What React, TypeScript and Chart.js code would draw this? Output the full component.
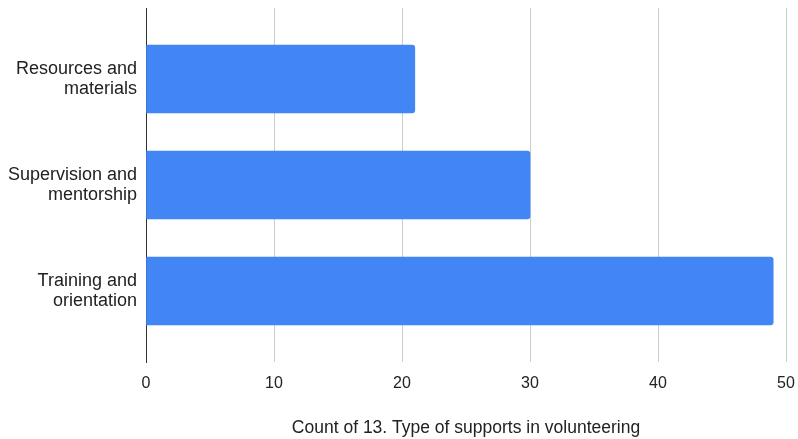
import React, { useEffect, useRef } from "react";
import { Chart, registerables } from "chart.js";

Chart.register(...registerables);

const categories: string[][] = [
  ["Resources and", "materials"],
  ["Supervision and", "mentorship"],
  ["Training and", "orientation"],
];
const counts: number[] = [21, 30, 49];
const xTitle = "Count of 13. Type of supports in volunteering";
const xMin = 0;
const xMax = 50;
const xStep = 10;

const FONT = "'Liberation Sans', Arial, sans-serif";

export default function App() {
  const ref = useRef<HTMLCanvasElement>(null);
  useEffect(() => {
    if (!ref.current) return;
    const chart = new Chart(ref.current, {
      type: "bar",
      data: {
        datasets: [
          {
            data: counts.map((v, i) => ({ x: v, y: i })),
            backgroundColor: "#4285F4",
            borderRadius: 3,
            barThickness: 68,
          },
        ],
      },
      options: {
        indexAxis: "y",
        animation: false,
        responsive: false,
        layout: { padding: { top: 8, right: 12, left: 0, bottom: 0 } },
        plugins: { legend: { display: false }, tooltip: { enabled: false } },
        scales: {
          x: {
            type: "linear",
            min: xMin,
            max: xMax,
            ticks: {
              stepSize: xStep,
              padding: 12,
              color: "#222",
              font: { family: FONT, size: 16 },
            },
            grid: { color: "#cccccc", drawTicks: false },
            border: { display: false },
            title: {
              display: true,
              text: xTitle,
              color: "#222",
              font: { family: FONT, size: 17.5 },
              padding: { top: 20, bottom: 0 },
            },
            afterFit: (s: any) => {
              s.height = 77;
              s.paddingLeft = 0;
              s.paddingRight = 0;
            },
          },
          y: {
            type: "linear",
            reverse: true,
            offset: false,
            min: -0.67,
            max: categories.length - 1 + 0.67,
            afterBuildTicks: (s: any) => {
              s.ticks = categories.map((_, i) => ({ value: i }));
            },
            ticks: {
              padding: 9,
              color: "#222",
              font: { family: FONT, size: 18, lineHeight: 1.12 },
              callback: (v: any) => categories[v as number],
            },
            grid: { display: false, drawTicks: false, offset: false },
            border: { display: true, color: "#333333", width: 1 },
            afterFit: (s: any) => {
              s.width = 146;
              s.paddingTop = 0;
              s.paddingBottom = 0;
            },
          },
        },
      },
    });
    return () => chart.destroy();
  }, []);
  return (
    <div style={{ position: "fixed", left: 0, top: 0, width: 798, height: 439, background: "#fff" }}>
      <canvas ref={ref} width={798} height={439} />
    </div>
  );
}
